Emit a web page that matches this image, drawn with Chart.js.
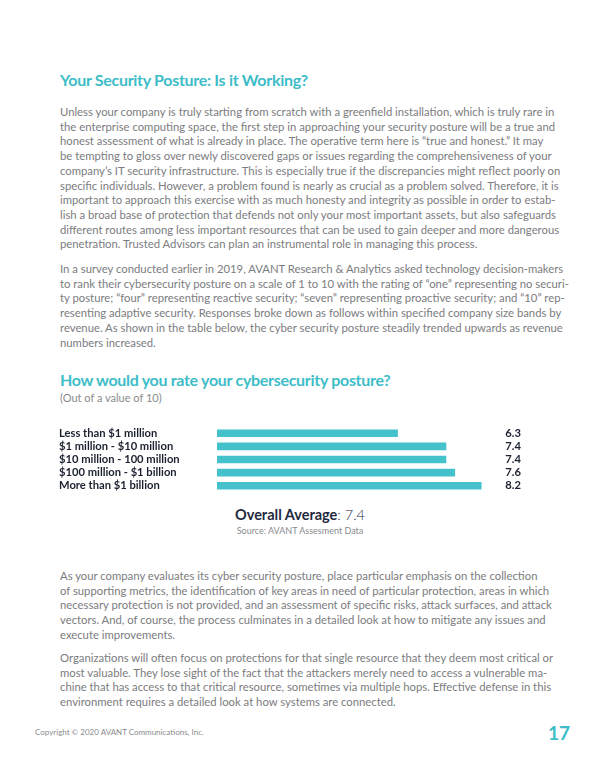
<!DOCTYPE html>
<html>
<head>
<meta charset="utf-8">
<script src="https://cdn.jsdelivr.net/npm/chart.js@4"></script>
<style>
  html, body { margin: 0; padding: 0; background: #fff; }
  body { width: 600px; height: 776px; position: relative; overflow: hidden; font-family: Lato, "Open Sans", sans-serif; }
  .abs { position: absolute; white-space: nowrap; }
  .h { color: #3dbdc8; font-weight: 700; letter-spacing: -0.3px; }
  .p { left: 60px; color: #7b7c80; font-size: 11.3px; line-height: 14.7px; }
  .p div { white-space: nowrap; }
  #chartBox { position: absolute; left: 59px; top: 420px; width: 462px; height: 79px; }
</style>
</head>
<body>

<div class="abs h" style="left:60px; top:70px; font-size:16px;">Your Security Posture: Is it Working?</div>

<div class="abs p" style="top:105px;">
  <div>Unless your company is truly starting from scratch with a greenfield installation, which is truly rare in</div>
  <div>the enterprise computing space, the first step in approaching your security posture will be a true and</div>
  <div>honest assessment of what is already in place. The operative term here is “true and honest.” It may</div>
  <div>be tempting to gloss over newly discovered gaps or issues regarding the comprehensiveness of your</div>
  <div>company’s IT security infrastructure. This is especially true if the discrepancies might reflect poorly on</div>
  <div>specific individuals. However, a problem found is nearly as crucial as a problem solved. Therefore, it is</div>
  <div>important to approach this exercise with as much honesty and integrity as possible in order to estab-</div>
  <div>lish a broad base of protection that defends not only your most important assets, but also safeguards</div>
  <div>different routes among less important resources that can be used to gain deeper and more dangerous</div>
  <div>penetration. Trusted Advisors can plan an instrumental role in managing this process.</div>
</div>

<div class="abs p" style="top:262px;">
  <div>In a survey conducted earlier in 2019, AVANT Research &amp; Analytics asked technology decision-makers</div>
  <div>to rank their cybersecurity posture on a scale of 1 to 10 with the rating of “one” representing no securi-</div>
  <div>ty posture; “four” representing reactive security; “seven” representing proactive security; and “10” rep-</div>
  <div>resenting adaptive security. Responses broke down as follows within specified company size bands by</div>
  <div>revenue. As shown in the table below, the cyber security posture steadily trended upwards as revenue</div>
  <div>numbers increased.</div>
</div>

<div class="abs h" style="left:60px; top:370px; font-size:16px;">How would you rate your cybersecurity posture?</div>
<div class="abs" style="left:60px; top:391px; font-size:11px; color:#8a8b8e;">(Out of a value of 10)</div>

<div id="chartBox"><canvas id="grafico"></canvas></div>

<div class="abs" style="left:0; width:600px; text-align:center; top:506px; font-size:14.5px; color:#1f2940;">
  <span style="font-weight:700;">Overall Average</span><span style="font-weight:300;">: <span id="media"></span></span>
</div>
<div class="abs" style="left:0; width:600px; text-align:center; top:525px; font-size:9px; color:#8a8b8e;">Source: AVANT Assesment Data</div>

<div class="abs p" style="top:569px;">
  <div>As your company evaluates its cyber security posture, place particular emphasis on the collection</div>
  <div>of supporting metrics, the identification of key areas in need of particular protection, areas in which</div>
  <div>necessary protection is not provided, and an assessment of specific risks, attack surfaces, and attack</div>
  <div>vectors. And, of course, the process culminates in a detailed look at how to mitigate any issues and</div>
  <div>execute improvements.</div>
</div>

<div class="abs p" style="top:651px;">
  <div>Organizations will often focus on protections for that single resource that they deem most critical or</div>
  <div>most valuable. They lose sight of the fact that the attackers merely need to access a vulnerable ma-</div>
  <div>chine that has access to that critical resource, sometimes via multiple hops. Effective defense in this</div>
  <div>environment requires a detailed look at how systems are connected.</div>
</div>

<div class="abs" style="left:35px; top:727px; font-size:8px; color:#8a8b8e;">Copyright © 2020  AVANT Communications, Inc.</div>
<div class="abs h" style="left:548px; top:721px; font-size:19px; letter-spacing:0;">17</div>

<script>
// faixas de receita (categorias) e notas médias
const faixas = [
  "Less than $1 million",
  "$1 million - $10 million",
  "$10 million - 100 million",
  "$100 million - $1 billion",
  "More than $1 billion"
];
const notas = [6.3, 7.4, 7.4, 7.6, 8.2];
const mediaGeral = 7.4;

document.getElementById("media").textContent = mediaGeral.toFixed(1);

const fonteRotulo = { family: 'Lato', weight: 'bold', size: 11.2 };

function desenhaGrafico() {
  new Chart(document.getElementById("grafico"), {
    type: 'bar',
    data: {
      labels: faixas,
      datasets: [{
        data: notas,
        backgroundColor: '#44c1cb',
        borderWidth: 0,
        barThickness: 7
      }]
    },
    options: {
      indexAxis: 'y',
      responsive: true,
      maintainAspectRatio: false,
      animation: false,
      layout: { padding: 0 },
      plugins: {
        legend: { display: false },
        tooltip: { enabled: false }
      },
      scales: {
        x: {
          display: false,
          min: 2.2,   // a barra começa perto de 2.2 na imagem
          max: 8.4
        },
        y: {
          position: 'left',
          grid: { display: false },
          border: { display: false },
          ticks: {
            autoSkip: false,
            crossAlign: 'far',
            padding: 0,
            color: '#1c2130',
            font: fonteRotulo
          },
          afterFit: s => { s.width = 158; }
        },
        valores: {
          type: 'category',
          position: 'right',
          labels: notas.map(v => v.toFixed(1)), // notas escritas à direita
          offset: true,
          grid: { display: false },
          border: { display: false },
          ticks: {
            autoSkip: false,
            crossAlign: 'far',
            padding: 0,
            color: '#1c2130',
            font: fonteRotulo
          },
          afterFit: s => { s.width = 31; }
        }
      }
    }
  });
}

// espera a fonte Lato carregar antes de desenhar no canvas
document.fonts.load('bold 11.2px Lato').then(desenhaGrafico, desenhaGrafico);
</script>
</body>
</html>
